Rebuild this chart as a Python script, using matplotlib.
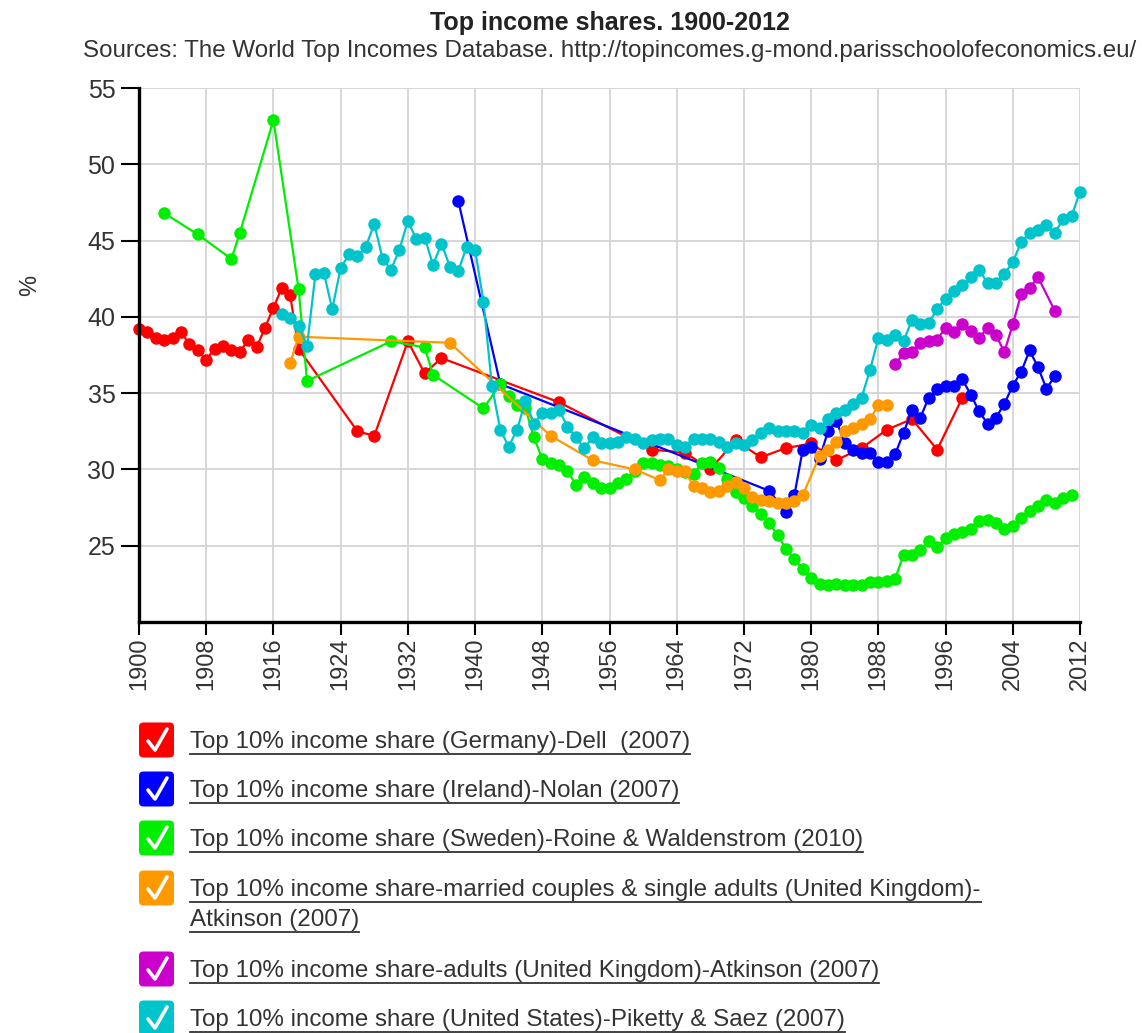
import matplotlib
matplotlib.use("Agg")
import matplotlib.pyplot as plt
from matplotlib.patches import FancyBboxPatch
from matplotlib.lines import Line2D

plt.rcParams['font.family'] = ['Liberation Sans', 'DejaVu Sans']

# --- data ---
germany_years = [1900, 1901, 1902, 1903, 1904, 1905, 1906, 1907, 1908, 1909,
                 1910, 1911, 1912, 1913, 1914, 1915, 1916, 1917, 1918, 1919,
                 1926, 1928, 1932, 1934, 1936, 1950, 1961, 1965, 1968, 1971,
                 1974, 1977, 1980, 1983, 1986, 1989, 1992, 1995, 1998]
germany_vals = [39.2, 39.0, 38.6, 38.5, 38.6, 39.0, 38.2, 37.8, 37.2, 37.9,
                38.1, 37.8, 37.7, 38.5, 38.0, 39.3, 40.6, 41.9, 41.4, 37.9,
                32.5, 32.2, 38.4, 36.3, 37.3, 34.4, 31.3, 31.1, 30.0, 31.9,
                30.8, 31.4, 31.7, 30.6, 31.4, 32.6, 33.3, 31.3, 34.7]

ireland_years = [1938, 1943, 1975, 1977, 1978, 1979, 1980, 1981, 1982, 1983,
                 1984, 1985, 1986, 1987, 1988, 1989, 1990, 1991, 1992, 1993,
                 1994, 1995, 1996, 1997, 1998, 1999, 2000, 2001, 2002, 2003,
                 2004, 2005, 2006, 2007, 2008, 2009]
ireland_vals = [47.6, 35.6, 28.6, 27.2, 28.3, 31.3, 31.5, 30.7, 32.5, 33.2,
                31.7, 31.3, 31.1, 31.1, 30.5, 30.5, 31.0, 32.4, 33.9, 33.4,
                34.7, 35.3, 35.5, 35.5, 35.9, 34.9, 33.8, 33.0, 33.4, 34.3,
                35.5, 36.4, 37.8, 36.7, 35.3, 36.1]

sweden_years = [1903, 1907, 1911, 1912, 1916, 1919, 1920, 1930, 1934, 1935,
                1941] + list(range(1943, 2012))
sweden_vals = [46.8, 45.4, 43.8, 45.5, 52.9, 41.8, 35.8, 38.4, 38.0, 36.2,
               34.0,
               35.6, 34.8, 34.2, 34.0, 32.1, 30.7, 30.4, 30.3, 29.9, 29.0,
               29.5, 29.1, 28.8, 28.8, 29.1, 29.4, 29.9, 30.4, 30.4, 30.3,
               30.2, 30.0, 29.8, 29.7, 30.4, 30.5, 30.1, 29.4, 28.5, 28.1,
               27.6, 27.1, 26.5, 25.7, 24.8, 24.1, 23.5, 22.9, 22.5, 22.4,
               22.5, 22.4, 22.4, 22.45, 22.6, 22.65, 22.7, 22.85, 24.4, 24.4,
               24.7, 25.3, 24.9, 25.5, 25.8, 25.9, 26.1, 26.6, 26.7, 26.5,
               26.1, 26.3, 26.8, 27.3, 27.6, 28.0, 27.8, 28.1, 28.3]

uk_couples_years = [1918, 1919, 1937, 1949, 1954, 1959, 1962, 1963, 1964, 1965,
                    1966, 1967, 1968, 1969, 1970, 1971, 1972, 1973, 1974, 1975,
                    1976, 1977, 1978, 1979, 1981, 1982, 1983, 1984, 1985, 1986,
                    1987, 1988, 1989]
uk_couples_vals = [37.0, 38.7, 38.3, 32.2, 30.6, 30.0, 29.3, 30.0, 29.9, 29.9,
                   28.9, 28.8, 28.5, 28.6, 28.9, 29.2, 28.8, 28.2, 28.0, 27.9,
                   27.8, 27.8, 27.9, 28.3, 30.9, 31.3, 31.8, 32.5, 32.7, 33.0,
                   33.3, 34.2, 34.2]

uk_adults_years = [1990, 1991, 1992, 1993, 1994, 1995, 1996, 1997, 1998, 1999,
                   2000, 2001, 2002, 2003, 2004, 2005, 2006, 2007, 2009]
uk_adults_vals = [36.9, 37.6, 37.7, 38.3, 38.4, 38.5, 39.3, 39.0, 39.5, 39.1,
                  38.6, 39.3, 38.8, 37.7, 39.5, 41.5, 41.9, 42.6, 40.4]

us_years = list(range(1917, 2013))
us_vals = [40.2, 39.9, 39.4, 38.1, 42.8, 42.9, 40.5, 43.2, 44.1, 44.0,
           44.6, 46.1, 43.8, 43.1, 44.4, 46.3, 45.1, 45.2, 43.4, 44.8,
           43.3, 43.0, 44.6, 44.4, 41.0, 35.5, 32.6, 31.5, 32.6, 34.5,
           33.0, 33.7, 33.7, 33.9, 32.8, 32.1, 31.4, 32.1, 31.7, 31.7,
           31.8, 32.1, 32.0, 31.7, 31.9, 32.0, 32.0, 31.6, 31.5, 32.0,
           32.0, 32.0, 31.8, 31.5, 31.7, 31.6, 31.9, 32.4, 32.7, 32.5,
           32.5, 32.5, 32.4, 32.9, 32.7, 33.3, 33.7, 33.9, 34.3, 34.7,
           36.5, 38.6, 38.5, 38.8, 38.4, 39.8, 39.5, 39.6, 40.5, 41.2,
           41.7, 42.1, 42.6, 43.1, 42.2, 42.2, 42.8, 43.6, 44.9, 45.5,
           45.7, 46.0, 45.5, 46.4, 46.6, 48.2]

series_labels = [
    "Top 10% income share (Germany)-Dell  (2007)",
    "Top 10% income share (Ireland)-Nolan (2007)",
    "Top 10% income share (Sweden)-Roine & Waldenstrom (2010)",
    "Top 10% income share-married couples & single adults (United Kingdom)-\nAtkinson (2007)",
    "Top 10% income share-adults (United Kingdom)-Atkinson (2007)",
    "Top 10% income share (United States)-Piketty & Saez (2007)",
]
series_colors = ['#ff0000', '#0000ff', '#00ee00', '#ff9900', '#cc00cc', '#00c4cc']

x_ticks = [1900, 1908, 1916, 1924, 1932, 1940, 1948, 1956, 1964, 1972,
           1980, 1988, 1996, 2004, 2012]
y_ticks = [25, 30, 35, 40, 45, 50, 55]

W, H = 1142, 1033
fig = plt.figure(figsize=(W / 100, H / 100), dpi=100)
ax = fig.add_axes([139 / W, 1 - 622 / H, 941 / W, 534 / H])

series = [(germany_years, germany_vals), (ireland_years, ireland_vals),
          (sweden_years, sweden_vals), (uk_couples_years, uk_couples_vals),
          (uk_adults_years, uk_adults_vals), (us_years, us_vals)]
for (xs, ys), c in zip(series, series_colors):
    ax.plot(xs, ys, color=c, lw=1.6, marker='o', markersize=9,
            markeredgewidth=0, clip_on=False)

ax.set_xlim(1900, 2012)
ax.set_ylim(20, 55)
ax.set_xticks(x_ticks)
ax.set_xticklabels([str(t) for t in x_ticks], rotation=90)
ax.set_yticks(y_ticks)
ax.grid(True, color='#d4d4d4', lw=1.3)
ax.set_axisbelow(True)
for s in ['top', 'right']:
    ax.spines[s].set_visible(False)
for s in ['left', 'bottom']:
    ax.spines[s].set_linewidth(2.4)
    ax.spines[s].set_color('black')
ax.tick_params(axis='y', length=13, width=1.5, pad=4, labelsize=18,
               labelcolor='#333333')
ax.tick_params(axis='x', length=9, width=1.5, pad=2, labelsize=17,
               labelcolor='#333333')

fig.text(609.5 / W, 1 - 23 / H, "Top income shares. 1900-2012", ha='center',
         va='center', fontsize=18, fontweight='bold', color='#222222')
fig.text(609.5 / W, 1 - 51 / H,
         "Sources: The World Top Incomes Database. "
         "http://topincomes.g-mond.parisschoolofeconomics.eu/",
         ha='center', va='center', fontsize=17.4, color='#333333')
fig.text(30 / W, 1 - 285 / H, "%", rotation=90, ha='center', va='center',
         fontsize=17, color='#333333')

# custom legend with check boxes and underlined labels
row_y = [740, 789, 838, 888, 969, 1018]
text_objs = []
for label, c, yc in zip(series_labels, series_colors, row_y):
    bx, bw = 139, 35
    box = FancyBboxPatch(((bx) / W, 1 - (yc + bw / 2) / H), bw / W, bw / H,
                         boxstyle="round,pad=0,rounding_size=0.004",
                         transform=fig.transFigure, facecolor=c,
                         edgecolor='none')
    fig.add_artist(box)
    cx = [bx + 9, bx + 16, bx + 28]
    cy = [yc + 1, yc + 10, yc - 11]
    fig.add_artist(Line2D([v / W for v in cx], [1 - v / H for v in cy],
                          transform=fig.transFigure, color='white', lw=2.6,
                          solid_capstyle='round', solid_joinstyle='round'))
    lines = label.split('\n')
    for i, ln in enumerate(lines):
        t = fig.text(190 / W, 1 - (yc + 2 + i * 30) / H, ln, ha='left',
                     va='center', fontsize=17.4, color='#333333')
        text_objs.append(t)

fig.canvas.draw()
renderer = fig.canvas.get_renderer()
for t in text_objs:
    bb = t.get_window_extent(renderer).transformed(fig.transFigure.inverted())
    yline = bb.y0 - 1.0 / H
    fig.add_artist(Line2D([bb.x0, bb.x1], [yline, yline],
                          transform=fig.transFigure, color='#333333', lw=1.3))

fig.savefig("out.png", dpi=100)
